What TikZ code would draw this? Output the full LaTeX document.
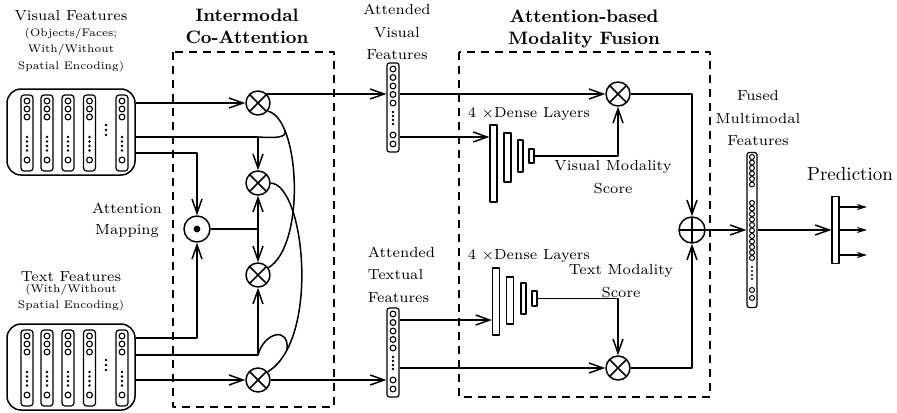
\documentclass[tikz,border=0pt]{standalone}
\usetikzlibrary{arrows.meta}
\newcommand{\featcol}[2]{%
  \draw[line width=0.6pt, rounded corners=1.5pt] (#1-6,#2) rectangle (#1+6,#2+76);
  \foreach \dy in {6,14,22,65} {\draw[line width=0.55pt] (#1,#2+\dy) circle[radius=1.45pt];}
  \foreach \dy in {42,46.5,51,55.5} {\fill (#1,#2+\dy) circle[radius=0.7pt];}
}
\newcommand{\attcircles}[1]{%
  \foreach \dy in {6,14.5,23,31.5,40,72,81} {\draw[line width=0.55pt] (393,#1+\dy) circle[radius=1.45pt];}
  \foreach \dy in {49,53,57,61} {\fill (393,#1+\dy) circle[radius=0.65pt];}
}
\begin{document}
\begin{tikzpicture}[x=0.5pt,y=-0.5pt,line width=0.75pt,line join=round,
  arr/.style={-{Straight Barb[length=7pt,width=5pt]}},
  parr/.style={-{Stealth[length=5pt,width=3pt,inset=1.5pt]}},
  otimesnode/.style={circle,draw,fill=white,minimum size=12pt,inner sep=0pt,
    path picture={\draw (path picture bounding box.north west) -- (path picture bounding box.south east)
      (path picture bounding box.north east) -- (path picture bounding box.south west);}},
  oplusnode/.style={circle,draw,fill=white,minimum size=13pt,inner sep=0pt,
    path picture={\draw (path picture bounding box.north) -- (path picture bounding box.south)
      (path picture bounding box.east) -- (path picture bounding box.west);}},
  odotnode/.style={circle,draw,fill=white,minimum size=13pt,inner sep=0pt,
    path picture={\fill[black] (path picture bounding box.center) circle[radius=1.7pt];}},
  fbox/.style={draw,rounded corners=7pt,inner sep=0pt,minimum width=64pt,minimum height=43pt},
  colbox/.style={draw,rounded corners=1.2pt,inner sep=0pt,line width=0.6pt},
  dl/.style={draw,inner sep=0pt,line width=0.6pt},
  dashbox/.style={dash pattern=on 4pt off 3pt,line width=0.65pt},
  lab/.style={font=\fontsize{7.3}{8}\selectfont,inner sep=0pt,anchor=base},
  sublab/.style={font=\fontsize{5.5}{6}\selectfont,inner sep=0pt,anchor=base},
  ttl/.style={font=\fontsize{9}{10}\selectfont\bfseries,inner sep=0pt,anchor=base}
]
\useasboundingbox (0,0) rectangle (897,412);

% dashed regions
\draw[dashbox] (173,52) rectangle (334,407);
\draw[dashbox] (459,52) rectangle (710,397);

% titles
\node[ttl] at (247,21) {Intermodal};
\node[ttl] at (247,43) {Co-Attention};
\node[ttl] at (584,22) {Attention-based};
\node[ttl] at (584,44) {Modality Fusion};

% input feature boxes
\node[fbox] (vis) at (71,132) {};
\node[fbox] (txt) at (71,367) {};
\foreach \cx in {27,47,68,89.5,122} {\featcol{\cx}{95}\featcol{\cx}{330}}
\foreach \dy in {30,35,40} {\fill (106,95+\dy) circle[radius=0.7pt]; \fill (106,330+\dy) circle[radius=0.7pt];}

\node[lab] at (71,20) {Visual Features};
\node[sublab] at (71,36) {(Objects/Faces;};
\node[sublab] at (71,52) {With/Without};
\node[sublab] at (71,69) {Spatial Encoding)};
\node[lab] at (71,281) {Text Features};
\node[sublab] at (71,292) {(With/Without};
\node[sublab] at (71,308) {Spatial Encoding)};
\node[lab] at (127,213) {Attention};
\node[lab] at (127,234) {Mapping};

% co-attention operators
\node[otimesnode] (v1) at (258,103) {};
\node[otimesnode] (v2) at (258,183) {};
\node[otimesnode] (v3) at (258,275) {};
\node[otimesnode] (b) at (258,380) {};
\node[odotnode] (am) at (197,229) {};

\coordinate (j1) at (258,137);
\coordinate (j2) at (197,153);
\coordinate (j3) at (197,338);
\coordinate (j4) at (258,355);
\coordinate (j5) at (258,229);

\draw[arr] (vis.east |- v1) -- (v1);
\draw[arr] (vis.east |- j1) -- (j1) -- (v2);
\draw[arr] (vis.east |- j2) -- (j2) -- (am);
\draw[arr] (txt.east |- j3) -- (j3) -- (am);
\draw[arr] (txt.east |- j4) -- (j4) -- (v3);
\draw[arr] (txt.east |- b) -- (b);
\draw (am) -- (j5);
\draw[arr] (j5) -- (v2);
\draw[arr] (j5) -- (v3);

% curves
\draw (v1.-40) .. controls (300,118) and (306,245) .. (v3.35) coordinate[pos=0.22] (c1);
\draw (v2.east) .. controls (305,185) and (320,340) .. (b.40) coordinate[pos=0.85] (c2);
\draw (j1) .. controls (275,138) and (287,138) .. (c1);
\draw (j4) .. controls (264,332) and (290,326) .. (c2);

% attended features
\node[colbox,minimum width=6pt,minimum height=44.5pt] (avis) at (393,107.5) {};
\node[colbox,minimum width=6pt,minimum height=44.5pt] (atxt) at (393,352.5) {};
\attcircles{63}
\attcircles{308}
\node[lab] at (397,14) {Attended};
\node[lab] at (397,37) {Visual};
\node[lab] at (397,59) {Features};
\node[lab,anchor=base west] at (367,257) {Attended};
\node[lab,anchor=base west] at (367,279) {Textual};
\node[lab,anchor=base west] at (367,302) {Features};

\coordinate (o1) at (266,94);
\draw[arr] (o1) -- (o1 -| avis.west);
\draw[arr] (b) -- (b -| atxt.west);

% dense layers
\node[dl,minimum width=3.5pt,minimum height=38.5pt] (r1v) at (493.5,163.5) {};
\node[dl,minimum width=3.5pt,minimum height=24.5pt] (r2v) at (507.5,157.5) {};
\node[dl,minimum width=2.5pt,minimum height=16pt] (r3v) at (520.5,156) {};
\node[dl,minimum width=2.5pt,minimum height=7pt] (r4v) at (531.5,156) {};
\node[dl,minimum width=3.5pt,minimum height=33.5pt] (r1t) at (496,301.5) {};
\node[dl,minimum width=3.5pt,minimum height=23.5pt] (r2t) at (510,300.5) {};
\node[dl,minimum width=2.5pt,minimum height=15.5pt] (r3t) at (523.5,298.5) {};
\node[dl,minimum width=2.5pt,minimum height=7.5pt] (r4t) at (534.5,298.5) {};

\node[lab,anchor=base west] at (467,117) {4 $\times$Dense Layers};
\node[lab,anchor=base west] at (467,259) {4 $\times$Dense Layers};
\node[lab] at (613,170) {Visual Modality};
\node[lab] at (613,193) {Score};
\node[lab] at (621,274) {Text Modality};
\node[lab] at (621,297) {Score};

% fusion operators
\node[otimesnode] (fv) at (618,94) {};
\node[otimesnode] (ft) at (618,368) {};
\node[oplusnode] (fus) at (692,230) {};

\coordinate (dv) at (r1v.west |- 0,137);
\coordinate (dt) at (r1t.west |- 0,320);
\draw[arr] (avis.east |- fv) -- (fv);
\draw[arr] (avis.east |- dv) -- (dv);
\draw[arr] (atxt.east |- dt) -- (dt);
\draw[arr] (atxt.east |- ft) -- (ft);
\draw[arr] (r4v.east) -| (fv.south);
\draw[arr] (r4t.east) -| (ft.north);
\draw[arr] (fv.east) -| (fus.north);
\draw[arr] (ft.east) -| (fus.south);

% fused features
\node[colbox,minimum width=5pt,minimum height=77.5pt] (fcol) at (752,230) {};
\foreach \yy in {157,162.5,168,173.5,179,184.5,203,208.5,214,219.5,225,230.5,236,241.5,247,252.5,258,290,298}
  {\draw[line width=0.5pt] (752,\yy) circle[radius=1.25pt];}
\foreach \yy in {267,271,275,279} {\fill (752,\yy) circle[radius=0.6pt];}
\node[lab] at (758,100) {Fused};
\node[lab] at (758,123) {Multimodal};
\node[lab] at (758,145) {Features};

\draw[arr] (fus.east) -- (fus.east -| fcol.west);

% prediction
\node[dl,minimum width=3.5pt,minimum height=33.5pt] (pred) at (835.5,230) {};
\node[font=\fontsize{9.5}{10}\selectfont,inner sep=0pt,anchor=base] at (850,180) {Prediction};
\draw[arr] (fcol.east) -- (pred.west);
\coordinate (p1) at (867,207);
\coordinate (p2) at (867,230);
\coordinate (p3) at (867,255);
\draw[parr] (pred.east |- p1) -- (p1);
\draw[parr] (pred.east |- p2) -- (p2);
\draw[parr] (pred.east |- p3) -- (p3);
\end{tikzpicture}
\end{document}
